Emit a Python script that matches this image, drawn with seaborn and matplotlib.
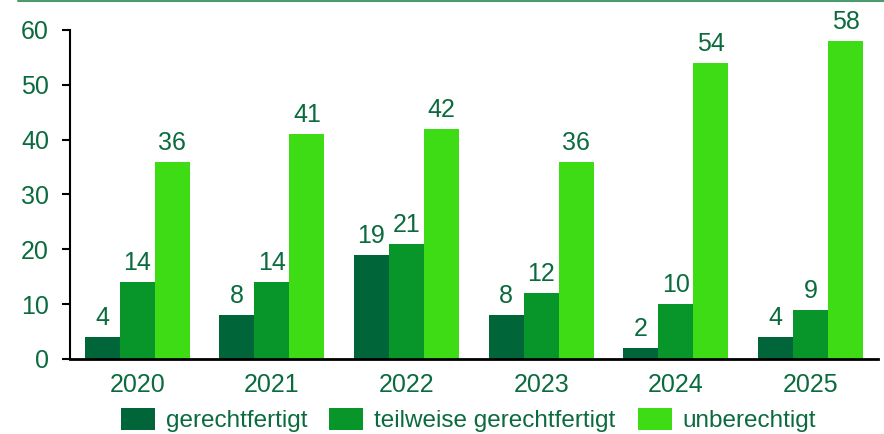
import pandas as pd
import seaborn as sns
import matplotlib.pyplot as plt
from matplotlib.lines import Line2D

# data
years = ["2020", "2021", "2022", "2023", "2024", "2025"]
gerechtfertigt = [4, 8, 19, 8, 2, 4]
teilweise = [14, 14, 21, 12, 10, 9]
unberechtigt = [36, 41, 42, 36, 54, 58]
series = ["gerechtfertigt", "teilweise gerechtfertigt", "unberechtigt"]
colors = ["#00663A", "#08962A", "#3DDC14"]
text_color = "#0B6B3E"

df = pd.DataFrame({
    "Jahr": years * 3,
    "Wert": gerechtfertigt + teilweise + unberechtigt,
    "Bewertung": [s for s in series for _ in years],
})

sns.set_style("white")
plt.rcParams["font.family"] = ["Liberation Sans", "DejaVu Sans"]

fig = plt.figure(figsize=(8.84, 4.34), dpi=100)
ax = fig.add_axes([0.079, 0.173, 0.914, 0.758])

sns.barplot(data=df, x="Jahr", y="Wert", hue="Bewertung", hue_order=series,
            palette=colors, width=0.78, gap=0, saturation=1, edgecolor="none",
            errorbar=None, ax=ax)

for c in ax.containers:
    ax.bar_label(c, padding=5, color=text_color, fontsize=18)

ax.set_ylim(0, 60)
ax.set_yticks(range(0, 61, 10))
ax.set_xlim(-0.5, 5.5)
ax.set_xlabel("")
ax.set_ylabel("")
ax.tick_params(axis="y", colors="black", labelcolor=text_color, labelsize=18,
               length=6, width=1.5, direction="out", left=True, pad=9)
ax.tick_params(axis="x", labelcolor=text_color, labelsize=18, length=0, pad=10)
for s in ["top", "right"]:
    ax.spines[s].set_visible(False)
ax.spines["left"].set_color("black")
ax.spines["left"].set_linewidth(1.5)
ax.spines["bottom"].set_color("black")
ax.spines["bottom"].set_linewidth(2)

handles, labels = ax.get_legend_handles_labels()
ax.get_legend().remove()
fig.legend(handles, labels, loc="center", bbox_to_anchor=(0.53, 0.032), ncol=3,
           frameon=False, fontsize=17.5, labelcolor=text_color,
           handlelength=1.4, handleheight=1.05, handletextpad=0.45, columnspacing=0.9,
           borderpad=0)

# green rule at the top
fig.add_artist(Line2D([0.02, 1.0], [0.998, 0.998], color="#4C9A6E", linewidth=1.5,
                      transform=fig.transFigure))

fig.savefig("out.png", dpi=100)
